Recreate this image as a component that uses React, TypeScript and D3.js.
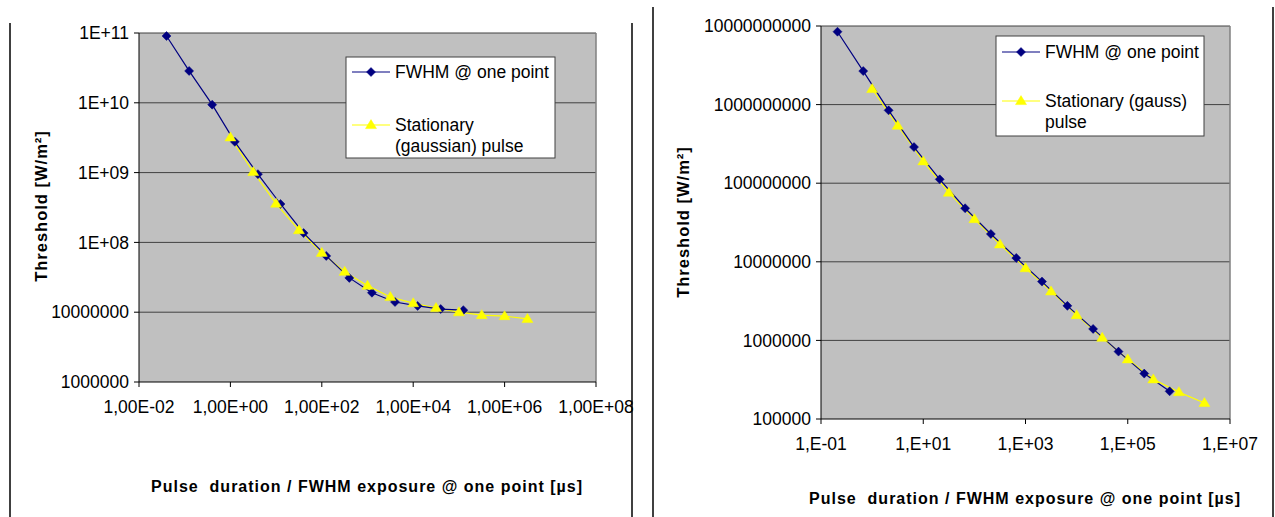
import React from 'react';
import * as d3 from 'd3';

// ---------- DATA ----------
const leftFwhmX = [0.04, 0.125, 0.4, 1.25, 4, 12.5, 40, 125, 400, 1250, 4000, 12500, 40000, 125000];
const leftFwhmY = [9.06e10, 2.86e10, 9.4e9, 2.76e9, 9.5e8, 3.55e8, 1.36e8, 6.4e7, 3.1e7, 1.9e7, 1.4e7, 1.23e7, 1.11e7, 1.07e7];
const leftGaussX = [1, 3.16, 10, 31.6, 100, 316, 1000, 3160, 1e4, 3.16e4, 1e5, 3.16e5, 1e6, 3.16e6];
const leftGaussY = [3.2e9, 1.02e9, 3.6e8, 1.5e8, 7.1e7, 3.8e7, 2.4e7, 1.65e7, 1.35e7, 1.15e7, 1.0e7, 9.1e6, 8.8e6, 8.0e6];

const rightFwhmX = [0.21, 0.67, 2.1, 6.6, 21, 66, 210, 660, 2100, 6600, 21000, 66000, 210000, 660000];
const rightFwhmY = [8.46e9, 2.67e9, 8.45e8, 2.88e8, 1.12e8, 4.8e7, 2.26e7, 1.12e7, 5.6e6, 2.75e6, 1.4e6, 7.2e5, 3.78e5, 2.25e5];
const rightGaussX = [1, 3.16, 10, 31.6, 100, 316, 1000, 3160, 1e4, 3.16e4, 1e5, 3.16e5, 1e6, 3.16e6];
const rightGaussY = [1.58e9, 5.4e8, 1.9e8, 7.6e7, 3.5e7, 1.67e7, 8.3e6, 4.2e6, 2.1e6, 1.08e6, 5.75e5, 3.2e5, 2.2e5, 1.6e5];

const leftXTicks = [1e-2, 1, 1e2, 1e4, 1e6, 1e8];
const leftXLabels = ['1,00E-02', '1,00E+00', '1,00E+02', '1,00E+04', '1,00E+06', '1,00E+08'];
const leftYTicks = [1e6, 1e7, 1e8, 1e9, 1e10, 1e11];
const leftYLabels = ['1000000', '10000000', '1E+08', '1E+09', '1E+10', '1E+11'];

const rightXTicks = [1e-1, 1e1, 1e3, 1e5, 1e7];
const rightXLabels = ['1,E-01', '1,E+01', '1,E+03', '1,E+05', '1,E+07'];
const rightYTicks = [1e5, 1e6, 1e7, 1e8, 1e9, 1e10];
const rightYLabels = ['100000', '1000000', '10000000', '100000000', '1000000000', '10000000000'];

const seriesNames = ['FWHM @ one point'];
const leftGaussName = ['Stationary', '(gaussian) pulse'];
const rightGaussName = ['Stationary (gauss)', 'pulse'];
const yTitle = 'Threshold [W/m²]';
const xTitle = 'Pulse  duration / FWHM exposure @ one point [µs]';

const FONT = '"Liberation Sans", Arial, sans-serif';
const NAVY = '#000080';
const YEL = '#FFFF00';

type PanelProps = {
  box: { x0: number; x1: number; y0: number; y1: number };
  xDomain: [number, number];
  yDomain: [number, number];
  xTicks: number[]; xLabels: string[];
  yTicks: number[]; yLabels: string[];
  fx: number[]; fy: number[]; gx: number[]; gy: number[];
  legend: { x0: number; y0: number; x1: number; y1: number; lineY1: number; lineY2: number; gaussLines: string[] };
  yTitleX: number; yTitleY: number;
  xTitleX: number; xTitleY: number;
  xLabelY: number;
};

function Diamond({ x, y }: { x: number; y: number }) {
  const r = 4.5;
  return <path d={`M${x},${y - r}L${x + r},${y}L${x},${y + r}L${x - r},${y}Z`} fill={NAVY} stroke={NAVY} strokeWidth={0.5} />;
}
function Tri({ x, y }: { x: number; y: number }) {
  const h = 9, w = 5.5;
  return <path d={`M${x},${y - h * 0.6}L${x + w},${y + h * 0.4}L${x - w},${y + h * 0.4}Z`} fill={YEL} stroke={YEL} strokeWidth={0.5} />;
}

function Panel(p: PanelProps) {
  const xs = d3.scaleLog().domain(p.xDomain).range([p.box.x0, p.box.x1]);
  const ys = d3.scaleLog().domain(p.yDomain).range([p.box.y1, p.box.y0]);
  const line = d3.line<[number, number]>().x(d => xs(d[0])).y(d => ys(d[1]));
  const fPts: [number, number][] = p.fx.map((x, i) => [x, p.fy[i]]);
  const gPts: [number, number][] = p.gx.map((x, i) => [x, p.gy[i]]);
  const { x0, x1, y0, y1 } = p.box;
  const L = p.legend;
  return (
    <g>
      <rect x={x0} y={y0} width={x1 - x0} height={y1 - y0} fill="#C0C0C0" />
      {p.yTicks.slice(1).map(t => (
        <line key={t} x1={x0} x2={x1} y1={ys(t)} y2={ys(t)} stroke="#404040" strokeWidth={1} />
      ))}
      <line x1={x1} x2={x1} y1={y0} y2={y1} stroke="#808080" strokeWidth={1.5} />
      <line x1={x0} x2={x0} y1={y0} y2={y1} stroke="#000" strokeWidth={1} />
      <line x1={x0} x2={x1} y1={y1} y2={y1} stroke="#000" strokeWidth={1} />
      {p.yTicks.map((t, i) => (
        <g key={t}>
          <line x1={x0 - 5} x2={x0} y1={ys(t)} y2={ys(t)} stroke="#000" />
          <text x={x0 - 10} y={ys(t)} dy="0.35em" textAnchor="end" fontSize={17.5} fontFamily={FONT}>{p.yLabels[i]}</text>
        </g>
      ))}
      {p.xTicks.map((t, i) => (
        <g key={t}>
          <line x1={xs(t)} x2={xs(t)} y1={y1} y2={y1 + 5} stroke="#000" />
          <text x={xs(t)} y={p.xLabelY} dy="0.35em" textAnchor="middle" fontSize={17.5} fontFamily={FONT}>{p.xLabels[i]}</text>
        </g>
      ))}
      <path d={line(gPts) || ''} fill="none" stroke={YEL} strokeWidth={1.2} />
      <path d={line(fPts) || ''} fill="none" stroke={NAVY} strokeWidth={1.2} />
      {fPts.map((d, i) => <Diamond key={'f' + i} x={xs(d[0])} y={ys(d[1])} />)}
      {gPts.map((d, i) => <Tri key={'g' + i} x={xs(d[0])} y={ys(d[1])} />)}
      {/* legend */}
      <rect x={L.x0} y={L.y0} width={L.x1 - L.x0} height={L.y1 - L.y0} fill="#fff" stroke="#404040" strokeWidth={1} />
      <line x1={L.x0 + 6} x2={L.x0 + 44} y1={L.lineY1} y2={L.lineY1} stroke={NAVY} strokeWidth={1.2} />
      <Diamond x={L.x0 + 25} y={L.lineY1} />
      <text x={L.x0 + 49} y={L.lineY1} dy="0.35em" fontSize={17.5} fontFamily={FONT}>{seriesNames[0]}</text>
      <line x1={L.x0 + 6} x2={L.x0 + 44} y1={L.lineY2} y2={L.lineY2} stroke={YEL} strokeWidth={1.2} />
      <Tri x={L.x0 + 25} y={L.lineY2} />
      {L.gaussLines.map((s, i) => (
        <text key={s} x={L.x0 + 49} y={L.lineY2 + i * 21} dy="0.35em" fontSize={17.5} fontFamily={FONT}>{s}</text>
      ))}
      <text transform={`translate(${p.yTitleX},${p.yTitleY}) rotate(-90)`} textAnchor="middle" dy="0.35em"
        fontSize={16.5} fontWeight="bold" fontFamily={FONT} letterSpacing={1}>{yTitle}</text>
      <text x={p.xTitleX} y={p.xTitleY} textAnchor="middle" fontSize={16} fontWeight="bold" fontFamily={FONT}
        letterSpacing={1} style={{ whiteSpace: 'pre' }}>{xTitle}</text>
    </g>
  );
}

export default function App() {
  return (
    <svg width={1275} height={517} style={{ position: 'absolute', left: 0, top: 0, background: '#fff' }}>
      <line x1={10} x2={10} y1={23} y2={517} stroke="#000" strokeWidth={1.5} />
      <line x1={632} x2={632} y1={23} y2={517} stroke="#000" strokeWidth={1.5} />
      <line x1={653} x2={653} y1={7} y2={517} stroke="#000" strokeWidth={1.5} />
      <line x1={1273} x2={1273} y1={7} y2={517} stroke="#000" strokeWidth={1.5} />
      <Panel
        box={{ x0: 139, x1: 596, y0: 33, y1: 382 }}
        xDomain={[1e-2, 1e8]} yDomain={[1e6, 1e11]}
        xTicks={leftXTicks} xLabels={leftXLabels} yTicks={leftYTicks} yLabels={leftYLabels}
        fx={leftFwhmX} fy={leftFwhmY} gx={leftGaussX} gy={leftGaussY}
        legend={{ x0: 346, y0: 57, x1: 555, y1: 158, lineY1: 72, lineY2: 125, gaussLines: leftGaussName }}
        yTitleX={41} yTitleY={206} xTitleX={367} xTitleY={492} xLabelY={407}
      />
      <Panel
        box={{ x0: 821, x1: 1230, y0: 26, y1: 419 }}
        xDomain={[1e-1, 1e7]} yDomain={[1e5, 1e10]}
        xTicks={rightXTicks} xLabels={rightXLabels} yTicks={rightYTicks} yLabels={rightYLabels}
        fx={rightFwhmX} fy={rightFwhmY} gx={rightGaussX} gy={rightGaussY}
        legend={{ x0: 996, y0: 36, x1: 1204, y1: 136, lineY1: 52, lineY2: 101, gaussLines: rightGaussName }}
        yTitleX={683} yTitleY={222} xTitleX={1025} xTitleY={504} xLabelY={444}
      />
    </svg>
  );
}
